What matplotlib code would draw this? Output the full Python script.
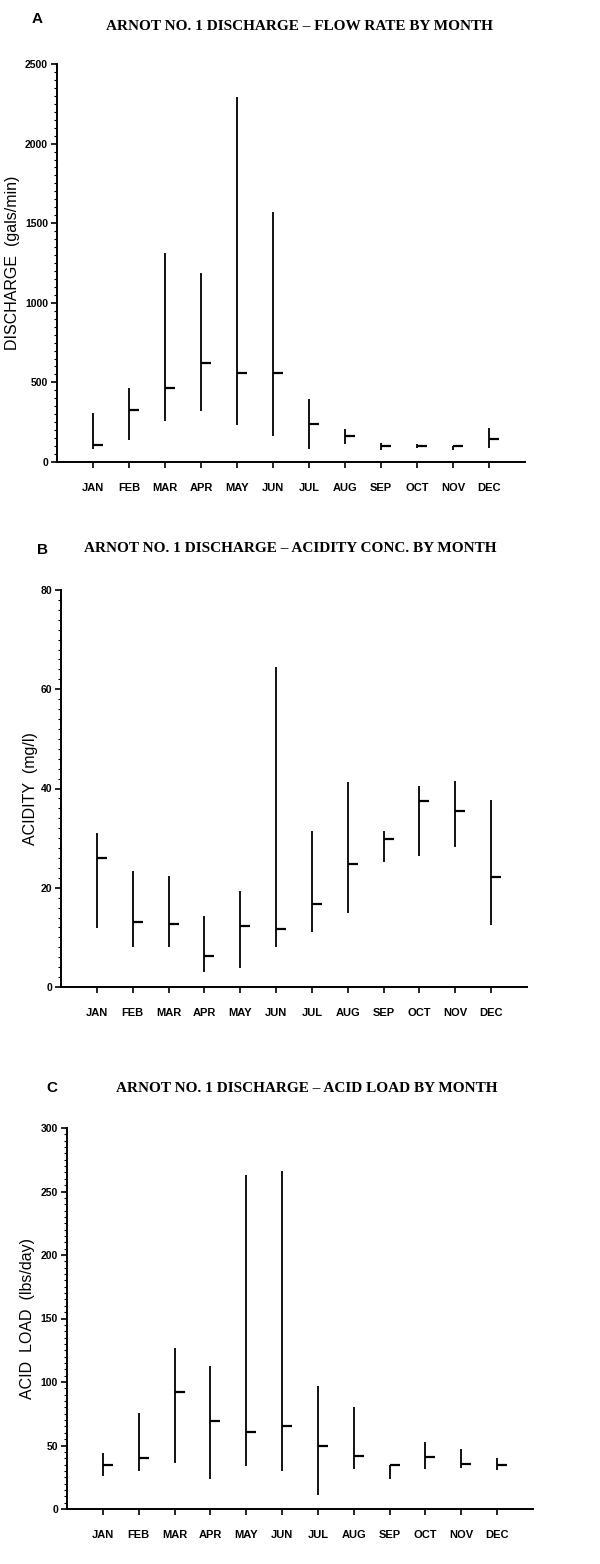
import matplotlib
matplotlib.use("Agg")
import matplotlib.pyplot as plt
from matplotlib.ticker import MultipleLocator

months = ["JAN", "FEB", "MAR", "APR", "MAY", "JUN", "JUL", "AUG", "SEP", "OCT", "NOV", "DEC"]

# Panel A: discharge (gals/min)
flow_low = [80, 136, 258, 321, 231, 164, 84, 115, 73, 88, 78, 88]
flow_high = [308, 466, 1311, 1185, 2290, 1571, 398, 210, 120, 115, 101, 216]
flow_mean = [105, 325, 466, 623, 560, 562, 237, 161, 101, 101, 99, 145]

# Panel B: acidity (mg/l)
acid_low = [11.9, 8.0, 8.0, 3.0, 3.8, 8.0, 11.0, 15.0, 25.1, 26.3, 28.3, 12.4]
acid_high = [31.1, 23.3, 22.3, 14.4, 19.4, 64.4, 31.5, 41.4, 31.5, 40.6, 41.5, 37.7]
acid_mean = [26.0, 13.1, 12.6, 6.2, 12.2, 11.7, 16.8, 24.8, 29.9, 37.4, 35.5, 22.1]

# Panel C: acid load (lbs/day)
load_low = [25.7, 30.2, 36.2, 23.6, 33.6, 29.7, 11.3, 31.8, 23.9, 31.8, 32.3, 31.0]
load_high = [44.1, 75.6, 126.8, 112.3, 263.3, 265.9, 96.6, 80.1, 34.9, 52.8, 47.5, 39.9]
load_mean = [34.6, 40.2, 91.9, 69.6, 60.6, 65.1, 49.3, 42.0, 34.4, 40.9, 35.4, 34.4]

W, H = 600, 1564
fig = plt.figure(figsize=(W / 100, H / 100), dpi=100)
fig.patch.set_facecolor("white")

panels = [
    dict(letter="A", title="ARNOT NO. 1 DISCHARGE \u2013 FLOW RATE BY MONTH",
         ylabel="DISCHARGE  (gals/min)", low=flow_low, high=flow_high, mean=flow_mean,
         ymax=2500, major=500, minor=50,
         left=57, right=525, bottom=462, top=64, title_y=26, title_x=493, letter_xy=(37, 19), ylab_x=13),
    dict(letter="B", title="ARNOT NO. 1 DISCHARGE \u2013 ACIDITY CONC. BY MONTH",
         ylabel="ACIDITY  (mg/l)", low=acid_low, high=acid_high, mean=acid_mean,
         ymax=80, major=20, minor=2,
         left=61, right=527, bottom=987, top=590, title_y=549, title_x=497, letter_xy=(42, 550), ylab_x=30),
    dict(letter="C", title="ARNOT NO. 1 DISCHARGE \u2013 ACID LOAD BY MONTH",
         ylabel="ACID  LOAD  (lbs/day)", low=load_low, high=load_high, mean=load_mean,
         ymax=300, major=50, minor=5,
         left=67, right=533, bottom=1509, top=1128, title_y=1088, title_x=497, letter_xy=(52, 1088), ylab_x=28),
]

sans_bold = dict(family="Liberation Sans", weight="bold")

for p in panels:
    ax = fig.add_axes([p["left"] / W, 1 - p["bottom"] / H,
                       (p["right"] - p["left"]) / W, (p["bottom"] - p["top"]) / H])
    x = list(range(1, 13))
    ax.vlines(x, p["low"], p["high"], color="black", lw=1.3)
    ax.hlines(p["mean"], x, [xi + 0.28 for xi in x], color="black", lw=1.6)
    ax.set_xlim(0, 13)
    ax.set_ylim(0, p["ymax"])
    for s in ["top", "right"]:
        ax.spines[s].set_visible(False)
    ax.spines["left"].set_linewidth(1.4)
    ax.spines["bottom"].set_linewidth(1.4)
    ax.set_xticks(x)
    ax.set_xticklabels(months, fontsize=8, **sans_bold)
    ax.yaxis.set_major_locator(MultipleLocator(p["major"]))
    ax.yaxis.set_minor_locator(MultipleLocator(p["minor"]))
    ax.tick_params(axis="x", direction="out", length=4, width=1.2, pad=11)
    ax.tick_params(axis="y", which="major", direction="out", length=4, width=1.2, pad=2.5)
    ax.tick_params(axis="y", which="minor", direction="out", length=2, width=0.8)
    for lab in ax.get_yticklabels():
        lab.set_fontsize(7.5)
        lab.set_fontfamily("Liberation Sans")
        lab.set_fontweight("bold")
    fig.text(p["title_x"] / W, 1 - p["title_y"] / H, p["title"], ha="right", va="center",
             fontsize=11, family="Liberation Serif", weight="bold")
    fig.text(p["letter_xy"][0] / W, 1 - p["letter_xy"][1] / H, p["letter"], ha="center", va="center",
             fontsize=11, family="Liberation Sans", weight="bold")
    fig.text(p["ylab_x"] / W, 1 - ((p["top"] + p["bottom"]) / 2) / H, p["ylabel"], rotation=90,
             ha="center", va="center", fontsize=11.5, family="Liberation Sans")

fig.savefig("out.png", dpi=100, facecolor="white")
